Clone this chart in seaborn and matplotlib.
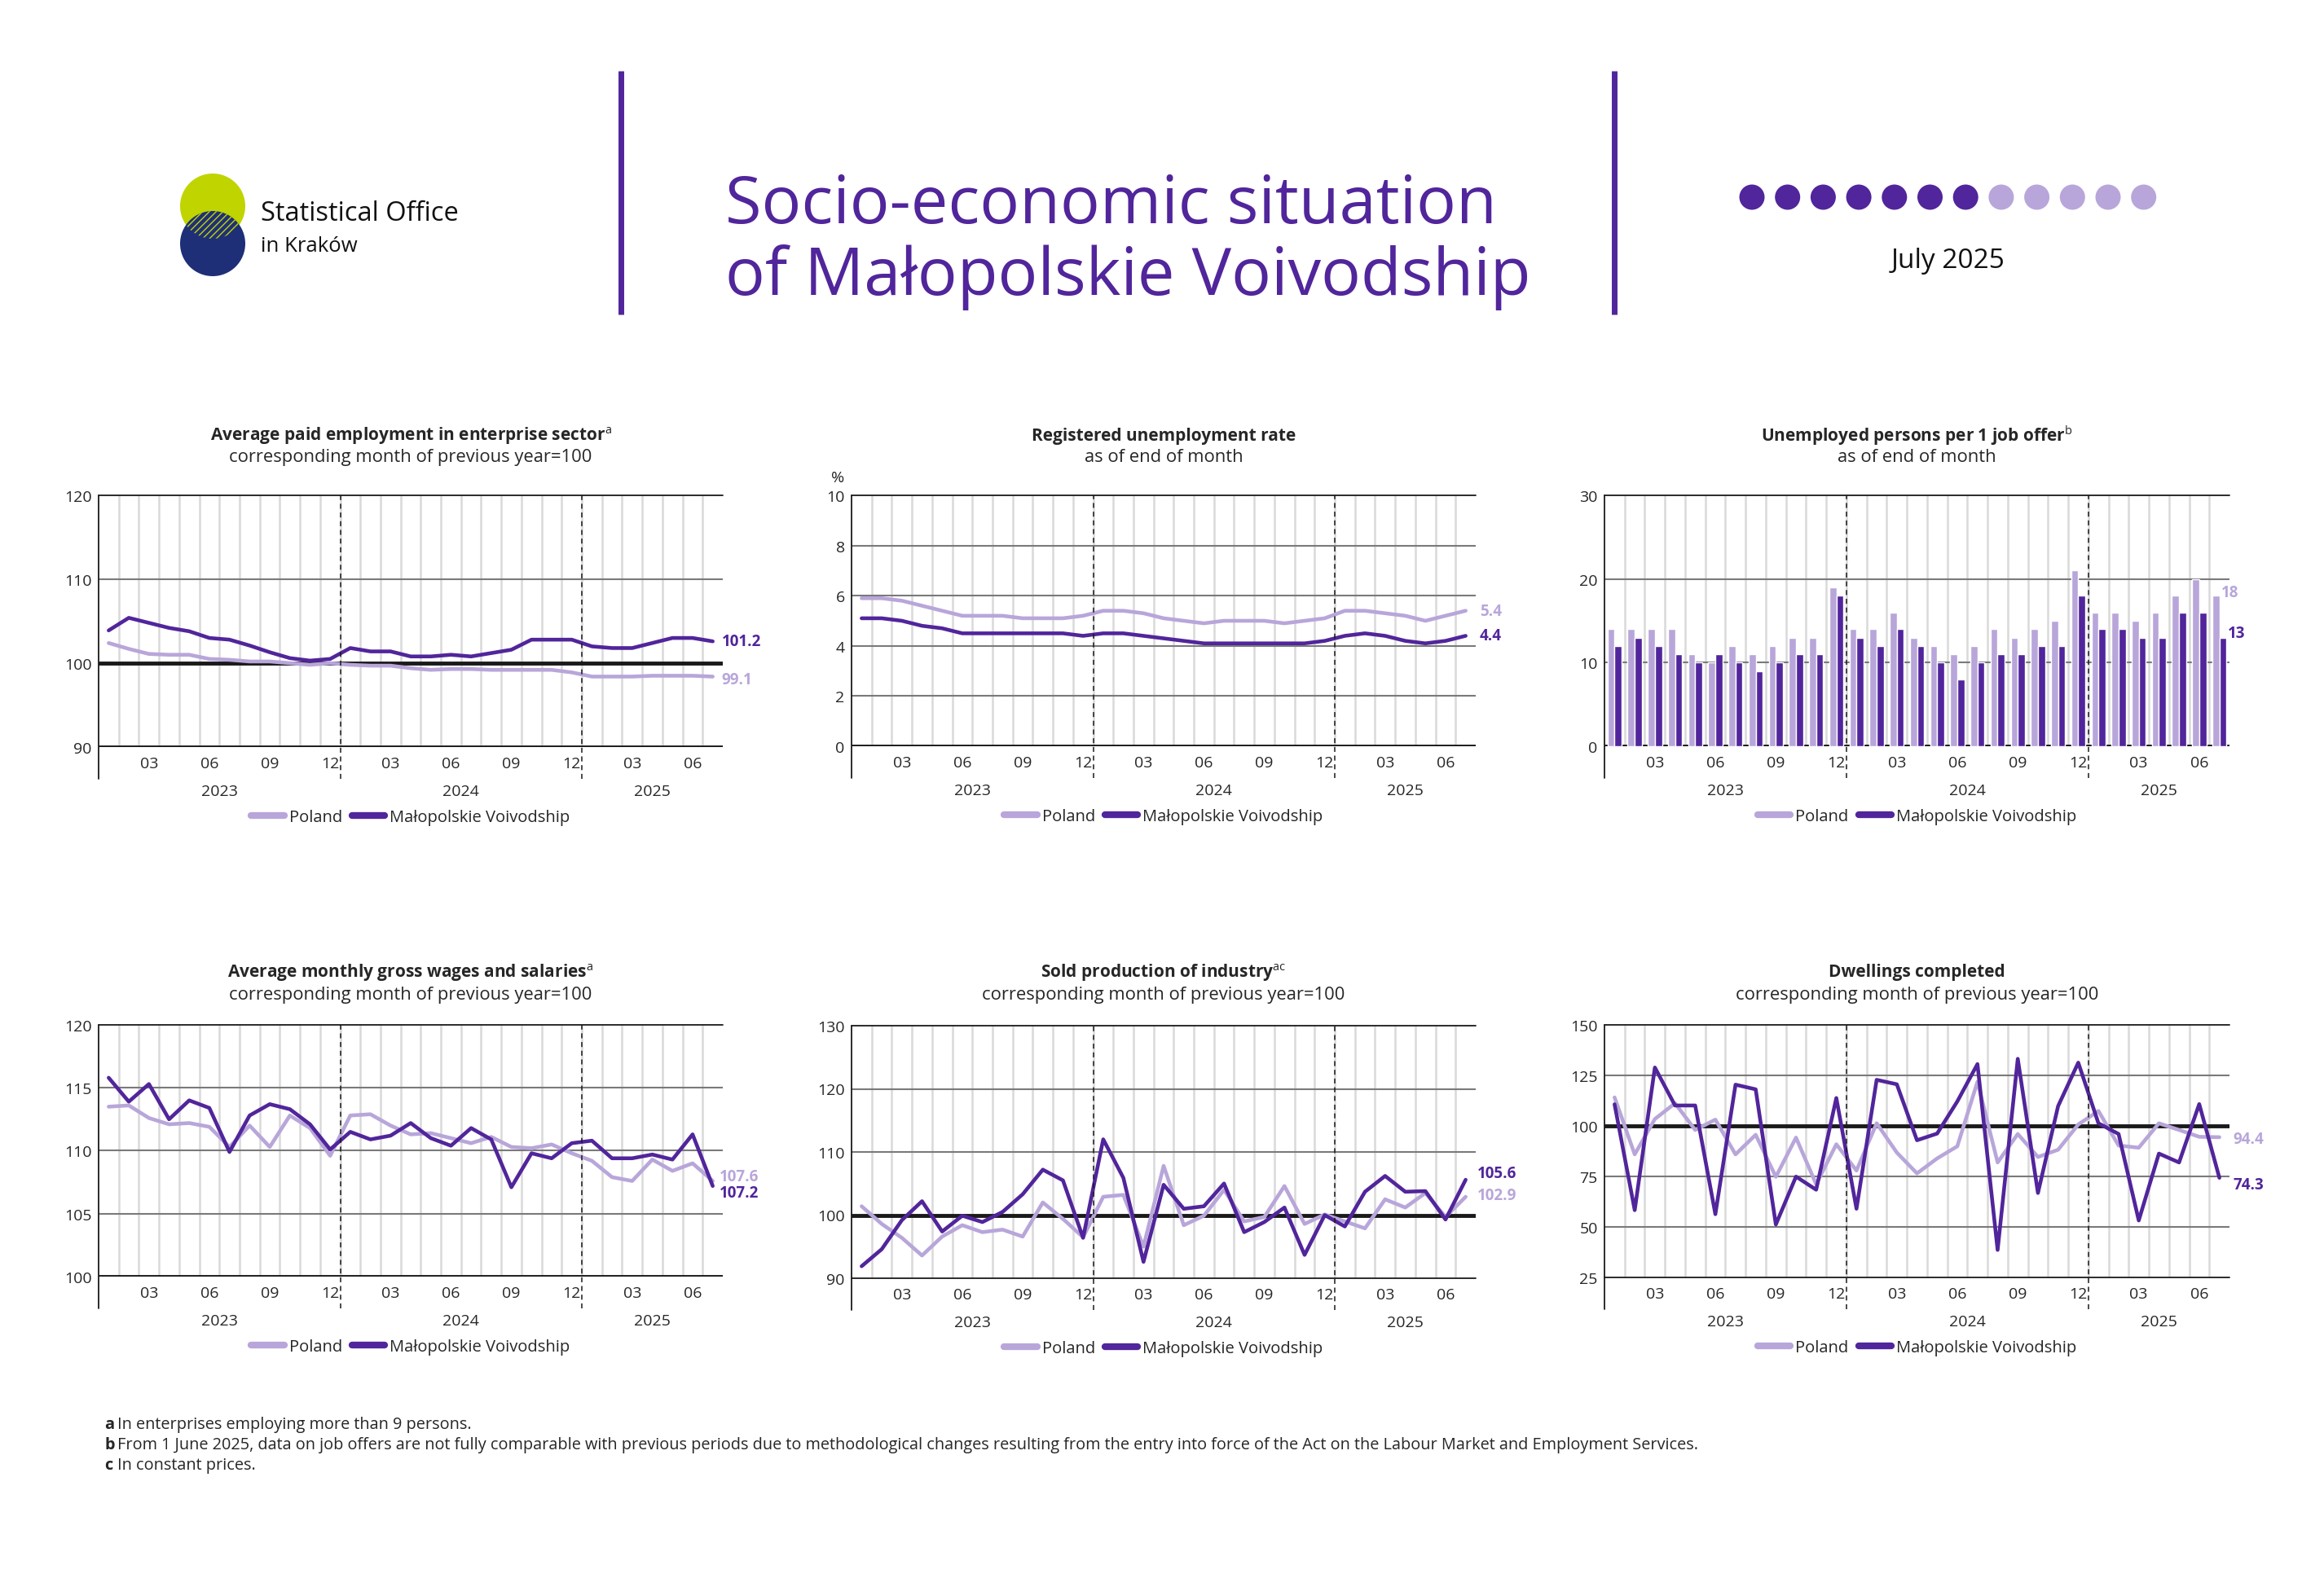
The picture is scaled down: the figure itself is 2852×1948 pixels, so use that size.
import numpy as np
import pandas as pd
import matplotlib
matplotlib.use('Agg')
import matplotlib.pyplot as plt
from matplotlib.lines import Line2D
from matplotlib.patches import Circle
import seaborn as sns

W, H = 2852, 1949
DARK = '#51259b'
LIGHT = '#b8a6da'
GRID_V = '#d9d9d9'
GRID_H = '#7a7a7a'
FONT = ['Open Sans', 'DejaVu Sans']

series_names = ['Poland', 'Małopolskie Voivodship']
months = list(range(31))  # 2023-01 .. 2025-07
tick_pos = [2, 5, 8, 11, 14, 17, 20, 23, 26, 29]
tick_labels = ['03', '06', '09', '12', '03', '06', '09', '12', '03', '06']
years = ['2023', '2024', '2025']
year_centers = [5.5, 17.5, 27]

employment_pl = [102.4, 101.7, 101.1, 101.0, 101.0, 100.5, 100.4, 100.2, 100.2, 100.0, 99.8, 100.0,
                 99.8, 99.7, 99.7, 99.4, 99.2, 99.3, 99.3, 99.2, 99.2, 99.2, 99.2, 98.9,
                 98.4, 98.4, 98.4, 98.5, 98.5, 98.5, 98.4]
employment_ma = [103.9, 105.4, 104.8, 104.2, 103.8, 103.0, 102.8, 102.1, 101.3, 100.6, 100.3, 100.5,
                 101.8, 101.4, 101.4, 100.8, 100.8, 101.0, 100.8, 101.2, 101.6, 102.8, 102.8, 102.8,
                 102.0, 101.8, 101.8, 102.4, 103.0, 103.0, 102.6]

unemp_pl = [5.9, 5.9, 5.8, 5.6, 5.4, 5.2, 5.2, 5.2, 5.1, 5.1, 5.1, 5.2,
            5.4, 5.4, 5.3, 5.1, 5.0, 4.9, 5.0, 5.0, 5.0, 4.9, 5.0, 5.1,
            5.4, 5.4, 5.3, 5.2, 5.0, 5.2, 5.4]
unemp_ma = [5.1, 5.1, 5.0, 4.8, 4.7, 4.5, 4.5, 4.5, 4.5, 4.5, 4.5, 4.4,
            4.5, 4.5, 4.4, 4.3, 4.2, 4.1, 4.1, 4.1, 4.1, 4.1, 4.1, 4.2,
            4.4, 4.5, 4.4, 4.2, 4.1, 4.2, 4.4]

offers_pl = [14, 14, 14, 14, 11, 10, 12, 11, 12, 13, 13, 19,
             14, 14, 16, 13, 12, 11, 12, 14, 13, 14, 15, 21,
             16, 16, 15, 16, 18, 20, 18]
offers_ma = [12, 13, 12, 11, 10, 11, 10, 9, 10, 11, 11, 18,
             13, 12, 14, 12, 10, 8, 10, 11, 11, 12, 12, 18,
             14, 14, 13, 13, 16, 16, 13]

wages_pl = [113.5, 113.6, 112.6, 112.1, 112.2, 111.9, 110.3, 112.0, 110.3, 112.8, 111.8, 109.6,
            112.8, 112.9, 112.0, 111.3, 111.4, 111.0, 110.6, 111.1, 110.3, 110.2, 110.5, 109.8,
            109.2, 107.9, 107.6, 109.3, 108.4, 109.0, 107.6]
wages_ma = [115.8, 113.9, 115.3, 112.5, 114.0, 113.4, 109.9, 112.8, 113.7, 113.3, 112.1, 110.1,
            111.5, 110.9, 111.2, 112.2, 111.0, 110.4, 111.8, 110.9, 107.1, 109.8, 109.4, 110.6,
            110.8, 109.4, 109.4, 109.7, 109.3, 111.3, 107.2]

industry_pl = [101.4, 98.6, 96.4, 93.6, 96.6, 98.4, 97.3, 97.7, 96.6, 102.0, 99.4, 96.5,
               102.9, 103.2, 95.0, 107.8, 98.4, 99.9, 104.0, 99.0, 99.7, 104.6, 98.6, 100.1,
               99.0, 97.9, 102.5, 101.2, 103.5, 99.7, 102.9]
industry_ma = [91.9, 94.6, 99.2, 102.2, 97.4, 99.9, 98.9, 100.5, 103.3, 107.2, 105.5, 96.4,
               112.0, 105.9, 92.6, 104.8, 101.0, 101.4, 105.0, 97.3, 98.9, 101.2, 93.7, 100.0,
               98.2, 103.7, 106.2, 103.7, 103.8, 99.3, 105.6]

dwell_pl = [114.1, 85.9, 103.4, 111.2, 98.0, 103.1, 85.9, 95.6, 74.8, 94.2, 71.1, 90.9,
            77.9, 101.3, 86.8, 76.5, 83.9, 89.9, 121.8, 81.9, 96.0, 84.6, 88.2, 100.7,
            107.4, 90.3, 89.2, 101.3, 98.0, 94.6, 94.4]
dwell_ma = [110.7, 58.3, 128.9, 110.1, 110.1, 56.3, 120.4, 118.1, 51.2, 74.9, 68.4, 113.8,
            59.0, 122.8, 120.6, 92.9, 96.2, 112.1, 130.6, 38.6, 133.2, 66.8, 109.8, 131.3,
            101.3, 96.0, 53.2, 86.3, 81.9, 110.8, 74.3]

sns.set_style('white')
plt.rcParams['font.family'] = FONT
plt.rcParams['mathtext.fontset'] = 'custom'
plt.rcParams['mathtext.rm'] = 'Open Sans'
plt.rcParams['mathtext.bf'] = 'Open Sans:bold'

fig = plt.figure(figsize=(W / 100, H / 100), dpi=100)

# overlay in pixel coordinates for header / footer
ov = fig.add_axes([0, 0, 1, 1])
ov.set_xlim(0, W)
ov.set_ylim(H, 0)
ov.axis('off')

# logo
ov.add_patch(Circle((261, 254), 40, color='#c0d400', lw=0))
ov.add_patch(Circle((261, 300), 40, color='#1e2f78', lw=0))
clip = Circle((261, 300), 40, transform=ov.transData)
hat = Circle((261, 254), 40, facecolor='none', edgecolor='#c0d400', hatch='////', lw=0)
ov.add_patch(hat)
hat.set_clip_path(clip)
ov.text(320, 262, 'Statistical Office', fontsize=23.5, va='center', ha='left', color='#111111')
ov.text(320, 302, 'in Kraków', fontsize=18.5, va='center', ha='left', color='#111111')

ov.plot([762, 762], [88, 387], color=DARK, lw=5, solid_capstyle='butt')
ov.plot([1981, 1981], [88, 387], color=DARK, lw=5, solid_capstyle='butt')
ov.text(890, 274, 'Socio-economic situation', fontsize=58.5, color=DARK, va='baseline', ha='left')
ov.text(890, 362, 'of Małopolskie Voivodship', fontsize=58.5, color=DARK, va='baseline', ha='left')

for i in range(12):
    ov.add_patch(Circle((2150 + 43.7 * i, 243), 15.5, color=DARK if i < 7 else LIGHT, lw=0))
ov.text(2391, 320, 'July 2025', fontsize=24, ha='center', va='center', color='#111111')

notes = [('a', 'In enterprises employing more than 9 persons.'),
         ('b', 'From 1 June 2025, data on job offers are not fully comparable with previous periods due to '
               'methodological changes resulting from the entry into force of the Act on the Labour Market '
               'and Employment Services.'),
         ('c', 'In constant prices.')]
for (letter, txt), y in zip(notes, [1749, 1774, 1799]):
    ov.text(128, y, letter, fontsize=14.3, fontweight='bold', va='center', ha='left')
    ov.text(144, y, txt, fontsize=14.3, va='center', ha='left')

panels = [
    dict(rect=(121, 609, 887, 918), ty=(535, 561), kind='line',
         title=r'Average paid employment in enterprise sector$^{\mathrm{a}}$',
         sub='corresponding month of previous year=100',
         pl=employment_pl, ma=employment_ma, ylim=(90, 120), yticks=[90, 100, 110, 120],
         thick=[90, 100], bottom_thin=False, dx=11,
         ends=[('99.1', LIGHT, -4), ('101.2', DARK, 0)]),
    dict(rect=(1045, 609, 1811, 917), ty=(535, 561), kind='line',
         title='Registered unemployment rate', sub='as of end of month',
         pl=unemp_pl, ma=unemp_ma, ylim=(0, 10), yticks=[0, 2, 4, 6, 8, 10],
         thick=[0], bottom_thin=False, dx=17, pct=True,
         ends=[('5.4', LIGHT, 0), ('4.4', DARK, 0)]),
    dict(rect=(1969, 609, 2736, 917), ty=(535, 561), kind='bar',
         title=r'Unemployed persons per 1 job offer$^{\mathrm{b}}$', sub='as of end of month',
         pl=offers_pl, ma=offers_ma, ylim=(0, 30), yticks=[0, 10, 20, 30],
         thick=[0], bottom_thin=False, dx=2,
         ends=[('18', LIGHT, 4), ('13', DARK, 6)]),
    dict(rect=(121, 1259, 887, 1568), ty=(1194, 1221), kind='line',
         title=r'Average monthly gross wages and salaries$^{\mathrm{a}}$',
         sub='corresponding month of previous year=100',
         pl=wages_pl, ma=wages_ma, ylim=(100, 120), yticks=[100, 105, 110, 115, 120],
         thick=[100], bottom_thin=False, dx=8,
         ends=[('107.6', LIGHT, 6), ('107.2', DARK, -8)]),
    dict(rect=(1045, 1260, 1811, 1570), ty=(1194, 1221), kind='line',
         title=r'Sold production of industry$^{\mathrm{ac}}$',
         sub='corresponding month of previous year=100',
         pl=industry_pl, ma=industry_ma, ylim=(90, 130), yticks=[90, 100, 110, 120, 130],
         thick=[100], bottom_thin=True, dx=14,
         ends=[('102.9', LIGHT, 2), ('105.6', DARK, 8)]),
    dict(rect=(1969, 1259, 2736, 1569), ty=(1194, 1221), kind='line',
         title='Dwellings completed', sub='corresponding month of previous year=100',
         pl=dwell_pl, ma=dwell_ma, ylim=(25, 150), yticks=[25, 50, 75, 100, 125, 150],
         thick=[100], bottom_thin=True, dx=17,
         ends=[('94.4', LIGHT, -2), ('74.3', DARK, -8)]),
]

for p in panels:
    l, t, r, b = p['rect']
    ah = b - t
    ax = fig.add_axes([l / W, 1 - b / H, (r - l) / W, ah / H])
    df = pd.DataFrame({'month': months * 2,
                       'value': p['pl'] + p['ma'],
                       'series': [series_names[0]] * 31 + [series_names[1]] * 31})
    pal = {series_names[0]: LIGHT, series_names[1]: DARK}

    # month boundaries
    for xb in np.arange(0.5, 30, 1):
        ax.axvline(xb, color=GRID_V, lw=1.8, zorder=0)
    for yv in p['yticks']:
        if yv in p['thick']:
            ax.axhline(yv, color='#1a1a1a', lw=3.5, zorder=1.5)
        elif yv == p['ylim'][1] or (p['bottom_thin'] and yv == p['ylim'][0]):
            ax.axhline(yv, color='#1a1a1a', lw=1.3, zorder=1.5, clip_on=False)
        else:
            ax.axhline(yv, color=GRID_H, lw=1.5, zorder=1)

    if p['kind'] == 'bar':
        sns.barplot(data=df, x='month', y='value', hue='series', hue_order=series_names,
                    palette=pal, width=0.7, gap=0, saturation=1, legend=False, ax=ax, zorder=2)
    else:
        sns.lineplot(data=df, x='month', y='value', hue='series', hue_order=series_names,
                     palette=pal, linewidth=3.3, legend=False, ax=ax, zorder=3)

    ax.set_xlim(-0.5, 30.5)
    ax.set_ylim(*p['ylim'])
    ax.set_xlabel('')
    ax.set_ylabel('')
    for s in ax.spines.values():
        s.set_visible(False)
    ax.set_yticks(p['yticks'])
    ax.set_yticklabels([str(v) for v in p['yticks']])
    ax.set_xticks(tick_pos)
    ax.set_xticklabels(tick_labels)
    ax.tick_params(axis='x', length=0, pad=8, labelsize=14)
    ax.tick_params(axis='y', length=0, pad=6, labelsize=14)

    ext = -39 / ah
    ax.axvline(-0.5, ymin=ext, ymax=1, color='#1a1a1a', lw=1.3, clip_on=False)
    for xb in [11.5, 23.5]:
        ax.axvline(xb, ymin=ext, ymax=1, color='#1a1a1a', lw=1.1, ls=(0, (4, 3)), clip_on=False, zorder=4)
    for yr, xc in zip(years, year_centers):
        ax.text(xc, -54 / ah, yr, transform=ax.get_xaxis_transform(), ha='center', va='center', fontsize=14)

    if p.get('pct'):
        ax.text(-0.022, 1 + 22 / ah, '%', transform=ax.transAxes, ha='center', va='center', fontsize=14)

    cx = (l + r) / 2
    ov.text(cx, p['ty'][0], p['title'], fontsize=15, fontweight='bold', ha='center', va='center')
    ov.text(cx, p['ty'][1], p['sub'], fontsize=15.8, ha='center', va='center')

    last = {LIGHT: p['pl'][-1], DARK: p['ma'][-1]}
    for txt, col, dy in p['ends']:
        if p['kind'] == 'bar':
            xa = 30.0 if col == LIGHT else 30.35
        else:
            xa = 30
        ax.annotate(txt, xy=(xa, last[col]), xytext=(p['dx'], dy), textcoords='offset pixels',
                    ha='left', va='center', fontsize=13.5, fontweight='bold', color=col,
                    annotation_clip=False)

    handles = [Line2D([], [], color=LIGHT, lw=6, solid_capstyle='round'),
               Line2D([], [], color=DARK, lw=6, solid_capstyle='round')]
    ax.legend(handles, series_names, loc='center', bbox_to_anchor=(0.5, -86 / ah), ncol=2,
              frameon=False, fontsize=14.5, handlelength=2.0, handletextpad=0.3, columnspacing=0.6)

fig.savefig('out.png', dpi=100)
